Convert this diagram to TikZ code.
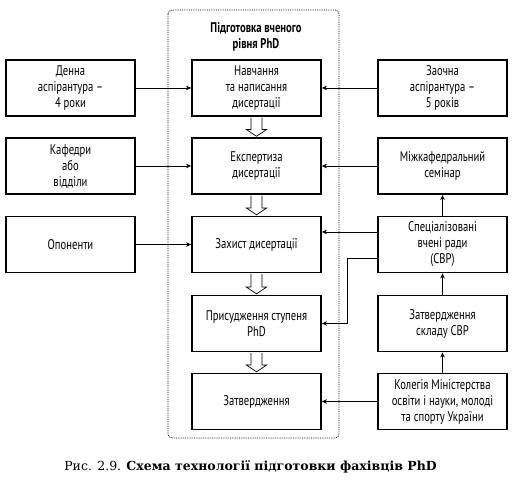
\documentclass[tikz,border=0pt]{standalone}
\usepackage{fontspec}
\usetikzlibrary{arrows.meta,calc}
\newfontfamily\boxfont{PT Sans}[FakeStretch=0.76]
\newfontfamily\capfont{DejaVu Serif}[FakeStretch=1.0]
\begin{document}
\begin{tikzpicture}[x=1pt,y=-1pt,
  box/.style={draw, line width=1.8pt, minimum width=129, minimum height=56, align=center, inner sep=0pt,
    font=\boxfont\fontsize{14}{16}\selectfont},
  conn/.style={line width=0.8pt, -{Stealth[length=5pt,width=4.5pt,inset=1.5pt]}},
  hollow/.style={draw, line width=0.7pt, fill=white}
]
\useasboundingbox (0,0) rectangle (512,494);
% frame
\draw[densely dotted, line width=0.8pt, rounded corners=4pt] (168,10) rectangle (339,438);
\node[font=\boxfont\bfseries\fontsize{14}{16}\selectfont, align=center] (title) at (256,37) {Підготовка вченого\\рівня PhD};
% left
\node[box] (l1) at (70.5,88) {Денна\\аспірантура –\\4 роки};
\node[box] (l2) at (70.5,166) {Кафедри\\або\\відділи};
\node[box] (l3) at (70.5,244.5) {Опоненти};
% center
\node[box] (c1) at (256.5,88) {Навчання\\та написання\\дисертації};
\node[box] (c2) at (256.5,166) {Експертиза\\дисертації};
\node[box] (c3) at (256.5,244.5) {Захист дисертації};
\node[box] (c4) at (256.5,323.5) {Присудження ступеня\\PhD};
\node[box] (c5) at (256.5,401.5) {Затвердження};
% right
\node[box] (r1) at (442.5,88) {Заочна\\аспірантура –\\5 років};
\node[box] (r2) at (442.5,166) {Міжкафедральний\\семінар};
\node[box] (r3) at (442.5,244.5) {Спеціалізовані\\вчені ради\\(СВР)};
\node[box] (r4) at (442.5,323.5) {Затвердження\\складу СВР};
\node[box] (r5) at (442.5,401.5) {Колегія Міністерства\\освіти і науки, молоді\\та спорту України};
% hollow arrows
\foreach \a/\b in {c1/c2,c2/c3,c3/c4,c4/c5}{
  \path (\a.south) coordinate (s) (\b.north) coordinate (t);
  \draw[hollow] ($(s)+(-5.5,0.8)$) -- ($(t)+(-5.5,-7.5)$) -- ($(t)+(-10,-7.5)$) -- ($(t)+(0,-0.8)$)
     -- ($(t)+(10,-7.5)$) -- ($(t)+(5.5,-7.5)$) -- ($(s)+(5.5,0.8)$);
}
% connectors
\draw[conn] (l1) -- (c1);
\draw[conn] (l2) -- (c2);
\draw[conn] (l3) -- (c3);
\draw[conn] (r1) -- (c1);
\draw[conn] (r2) -- (c2);
\draw[conn] ($(r3.west)+(0,-12.5)$) -- ($(c3.east)+(0,-12.5)$);
\draw[conn] ($(r3.west)+(0,13.5)$) -- ++(-30,0) |- (c4.east);
\draw[conn] (r5) -- (c5);
\draw[conn] (r5) -- (r4);
\draw[conn] (r4) -- (r3);
\draw[conn] (r3) -- (r2);
% caption
\node[font=\capfont\fontsize{12.5}{14}\selectfont] (cap) at (250.5,467) {Рис. 2.9. \textbf{Схема технології підготовки фахівців PhD}};
\end{tikzpicture}
\end{document}
